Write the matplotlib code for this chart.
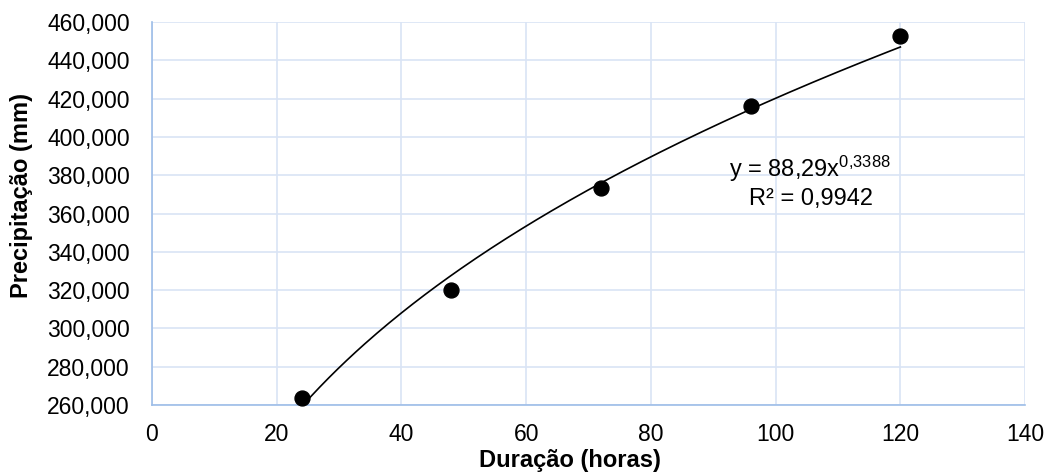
import numpy as np
import matplotlib.pyplot as plt
from matplotlib.ticker import FuncFormatter

plt.rcParams['font.family'] = ['Liberation Sans', 'DejaVu Sans']
plt.rcParams['mathtext.fontset'] = 'custom'
plt.rcParams['mathtext.rm'] = 'Liberation Sans'
plt.rcParams['mathtext.it'] = 'Liberation Sans'

duracao = [24, 48, 72, 96, 120]
precipitacao = [263.6, 320.0, 373.4, 416.0, 453.0]
coef_a = 88.29
coef_b = 0.3388
eq_text = r"y = 88,29x$^{0{,}3388}$"
r2_text = "R² = 0,9942"

fig = plt.figure(figsize=(10.46, 4.72), dpi=100)
ax = fig.add_axes([0.1453, 0.142, 0.8347, 0.811])

xs = np.linspace(duracao[0], duracao[-1], 200)
ax.plot(xs, coef_a * xs ** coef_b, color='black', lw=1.2, zorder=3)
ax.scatter(duracao, precipitacao, s=115, color='black', zorder=4, clip_on=False)

ax.set_xlim(0, 140)
ax.set_ylim(260, 460)
ax.set_xticks(range(0, 141, 20))
ax.set_yticks(range(260, 461, 20))
ax.yaxis.set_major_formatter(FuncFormatter(lambda v, p: "{:.0f},000".format(v)))
ax.grid(True, color='#D9E4F5', lw=1.2)
ax.set_axisbelow(True)
for s in ['top', 'right']:
    ax.spines[s].set_visible(False)
for s in ['left', 'bottom']:
    ax.spines[s].set_color('#9DBDE8')
    ax.spines[s].set_linewidth(1.2)
ax.tick_params(length=0, labelsize=16.5)
ax.tick_params(axis='x', pad=13)
ax.tick_params(axis='y', pad=16)

ax.set_xlabel("Duração (horas)", fontsize=17, fontweight='bold')
ax.set_ylabel("Precipitação (mm)", fontsize=17, fontweight='bold')
ax.xaxis.set_label_coords(0.479, -0.115)
ax.yaxis.set_label_coords(-0.136, 0.548)

ax.text(0.754, 0.595, eq_text, transform=ax.transAxes,
        ha='center', va='baseline', fontsize=17)
ax.text(0.755, 0.522, r2_text, transform=ax.transAxes,
        ha='center', va='baseline', fontsize=17)

fig.savefig("out.png", dpi=100)
